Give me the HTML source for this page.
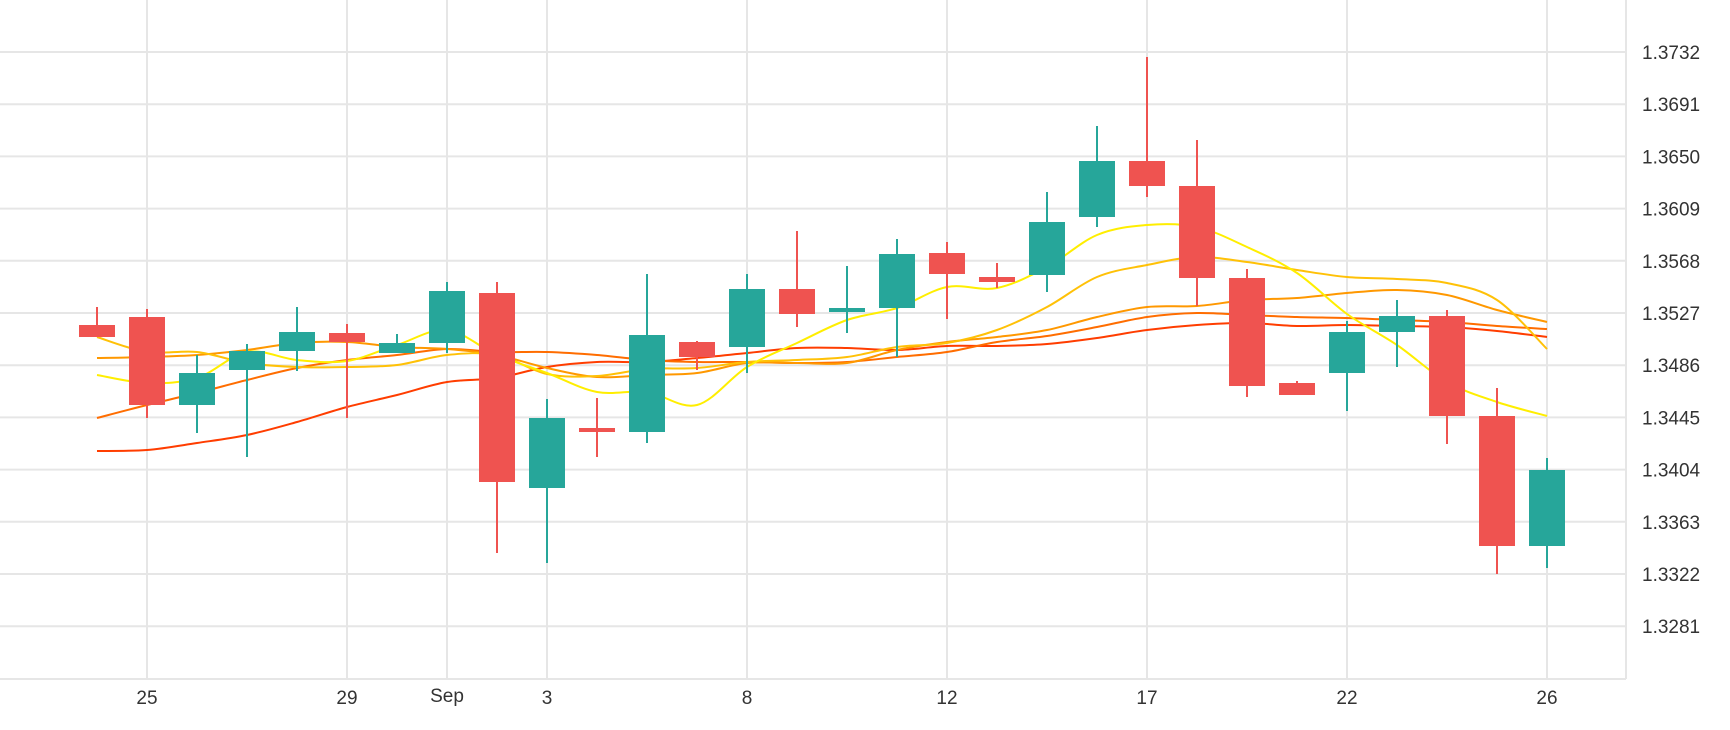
<!DOCTYPE html>
<html><head><meta charset="utf-8"><style>
html,body{margin:0;padding:0;background:#fff;}
svg{display:block;font-family:"Liberation Sans",sans-serif;}
</style></head><body>
<svg id="c" width="1730" height="730" xmlns="http://www.w3.org/2000/svg">
<g id="grid" stroke="#e6e6e6" stroke-width="2"></g>
<g id="lines" fill="none" stroke-width="2"></g>
<g id="candles"></g>
<g id="labels" fill="#333" font-size="19"></g>
</svg>
<script>
var NS="http://www.w3.org/2000/svg";
function el(p,t,a,txt){var e=document.createElementNS(NS,t);for(var k in a)e.setAttribute(k,a[k]);if(txt)e.textContent=txt;document.getElementById(p).appendChild(e);}
var prices=["1.3732","1.3691","1.3650","1.3609","1.3568","1.3527","1.3486","1.3445","1.3404","1.3363","1.3322","1.3281"];
for(var k=0;k<12;k++){var y=52+k*52.2;el("grid","line",{x1:0,x2:1626,y1:y,y2:y});el("labels","text",{x:1642,y:y+7},prices[k]);}
el("grid","line",{x1:0,x2:1626,y1:679,y2:679});
el("grid","line",{x1:1626,x2:1626,y1:0,y2:679});
var xl=[[1,"25"],[5,"29"],[7,"Sep"],[9,"3"],[13,"8"],[17,"12"],[21,"17"],[25,"22"],[29,"26"]];
xl.forEach(function(d){var x=97+50*d[0];el("grid","line",{x1:x,x2:x,y1:0,y2:679});el("labels","text",{x:x,y:d[1]=="Sep"?702:704,"text-anchor":"middle"},d[1]);});
// candles: [color, bodyTop, bodyBot, wickTop, wickBot]
var C=[["r",325,337,307,337],["r",317,405,309,418],["g",373,405,355,433],["g",351,370,344,457],["g",332,351,307,371],
["r",333,342,324,418],["g",343,353,334,353],["g",291,343,282,353],["r",293,482,282,553],["g",418,488,399,563],
["r",428,432,398,457],["g",335,432,274,443],["r",342,357,341,370],["g",289,347,274,373],["r",289,314,231,327],
["g",308,312,266,333],["g",254,308,239,357],["r",253,274,242,319],["r",277,282,263,288],["g",222,275,192,292],
["g",161,217,126,227],["r",161,186,57,197],["r",186,278,140,306],["r",278,386,269,397],["r",383,395,381,395],
["g",332,373,321,411],["g",316,332,300,367],["r",316,416,310,444],["r",416,546,388,574],["g",470,546,458,568]];
C.forEach(function(c,i){var x=97+50*i,col=c[0]=="g"?"#26a69a":"#ef5350";
el("candles","line",{x1:x,x2:x,y1:c[3],y2:c[4],stroke:col,"stroke-width":2});
el("candles","rect",{x:x-18,y:c[1],width:36,height:Math.max(4,c[2]-c[1]),fill:col});});
function smooth(pts){var d="M"+pts[0][0]+","+pts[0][1];for(var i=0;i<pts.length-1;i++){var p0=pts[i-1]||pts[i],p1=pts[i],p2=pts[i+1],p3=pts[i+2]||p2;
d+=" C"+(p1[0]+(p2[0]-p0[0])/6)+","+(p1[1]+(p2[1]-p0[1])/6)+" "+(p2[0]-(p3[0]-p1[0])/6)+","+(p2[1]-(p3[1]-p1[1])/6)+" "+p2[0]+","+p2[1];}return d;}
function ser(ys){return ys.map(function(y,i){return [97+50*i,y];});}
var L=[
["#ff3d00",[451,450,443,435,422,407,395,382,378,367,362,362,358,353,348,348,350,346,346,344,338,330,325,323,326,325,326,327,331,337]],
["#ff6d00",[418,405,393,380,368,360,355,349,352,352,355,360,362,362,363,362,357,352,342,336,327,317,313,315,317,318,320,322,326,329]],
["#ff9800",[358,357,355,350,343,342,347,349,355,368,377,375,373,363,363,363,350,342,337,330,317,307,306,300,298,293,290,295,310,322]],
["#ffc107",[337,352,352,363,367,367,365,355,355,374,376,369,368,362,360,357,347,343,330,307,277,265,257,262,270,277,279,283,300,349]],
["#ffee00",[375,383,378,352,360,361,345,330,355,373,392,392,405,367,343,320,308,287,288,267,235,225,227,247,273,314,345,382,402,416]]];
L.forEach(function(l){el("lines","path",{d:smooth(ser(l[1])),stroke:l[0]});});
</script>
</body></html>
